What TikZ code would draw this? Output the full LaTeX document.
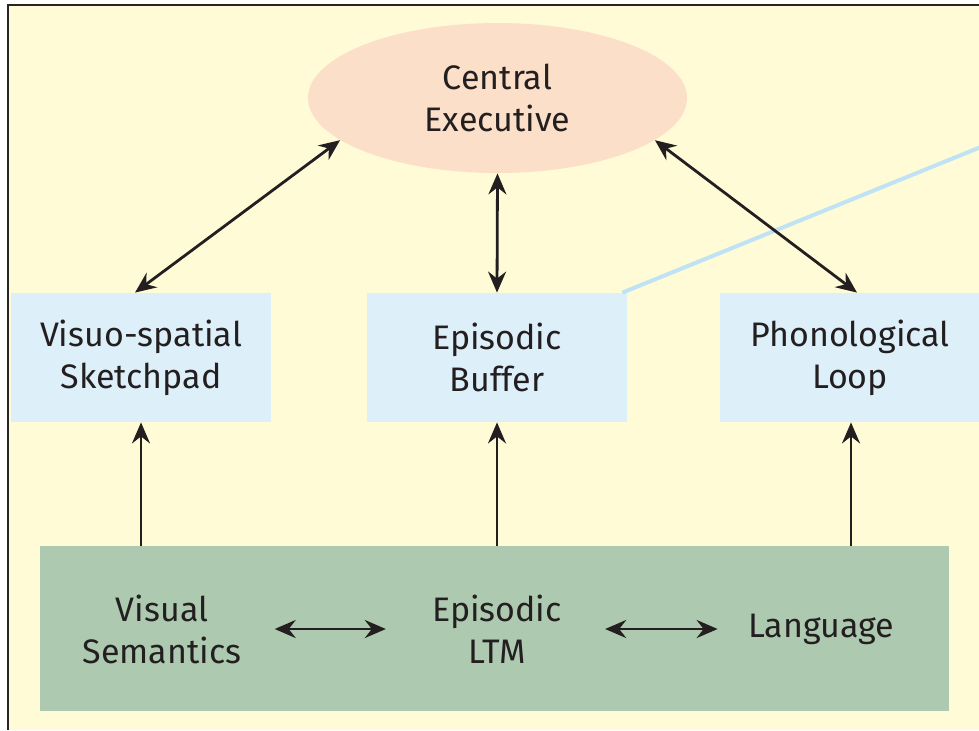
\documentclass[tikz,border=0pt]{standalone}
\usepackage{fontspec}
\setmainfont{Fira Sans}
\usetikzlibrary{shapes.geometric,arrows.meta}

\definecolor{paper}{HTML}{FFFBD6}
\definecolor{peach}{HTML}{FCDFC9}
\definecolor{paleblue}{HTML}{DDEFF9}
\definecolor{sage}{HTML}{ADC9B0}
\definecolor{linkblue}{HTML}{BFE3F5}
\definecolor{ink}{HTML}{231F20}

\begin{document}
\begin{tikzpicture}[x=0.5pt, y=-0.5pt, >={Stealth[length=10.5pt, width=9pt, inset=3.5pt]},
  every node/.style={align=center, text=ink, inner sep=0pt, font=\fontsize{17}{21}\selectfont},
  store/.style={shape=rectangle, fill=paleblue, minimum width=130pt, minimum height=64.5pt},
  link/.style={draw=ink, line width=1.4pt}]
\useasboundingbox (0,0) rectangle (979,730);
\fill[paper] (8,5) rectangle (979,730);
\draw[line width=1.25pt, black!85] (8,730) -- (8,5) -- (979,5);

\node[ellipse, fill=peach, minimum width=189.5pt, minimum height=75pt] (ce) at (497.5,98) {Central\\Executive};
\node[store] (vs) at (141,357.5) {Visuo-spatial\\Sketchpad};
\node[store] (eb) at (497,357.5) {Episodic\\Buffer};
\node[store] (pl) at (850,357.5) {Phonological\\Loop};
\node[shape=rectangle, fill=sage, minimum width=454.5pt, minimum height=82.5pt] (ltm) at (494.5,628.5) {};
\node (vsem) at (162,629) {Visual\\Semantics};
\node (eltm) at (497,629) {Episodic\\LTM};
\node (lang) at (821,629) {Language};

% line out to the enlarged buffer
\coordinate (callout) at (1030,127);
\draw[linkblue, line width=2pt] ([xshift=-2.5pt]eb.north east) -- (callout);

\draw[link, <->] ([xshift=-3pt]vs.north) -- (ce.195);
\draw[link, <->] (eb.north) -- (ce.south);
\draw[link, <->] ([xshift=3.5pt]pl.north) -- (ce.345);

\draw[link, ->] (ltm.north -| vs.south) -- (vs.south);
\draw[link, ->] (ltm.north -| eb.south) -- (eb.south);
\draw[link, ->] ([xshift=0.5pt]ltm.north -| pl.south) -- ([xshift=0.5pt]pl.south);

\draw[link, <->, shorten <=16.5pt, shorten >=23pt] (vsem.east) -- (eltm.west);
\draw[link, <->, shorten <=21.5pt, shorten >=15pt] (eltm.east) -- (lang.west);
\end{tikzpicture}
\end{document}
